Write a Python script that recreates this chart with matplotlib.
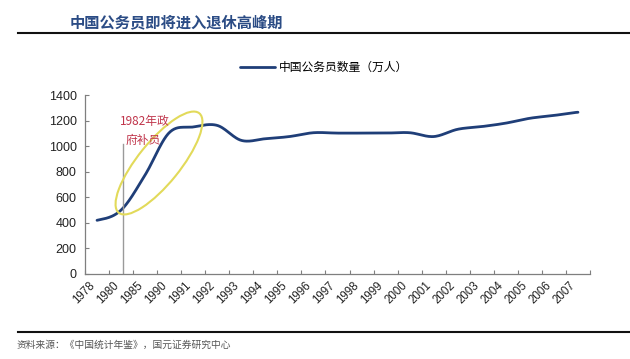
import matplotlib
matplotlib.use("Agg")
import matplotlib.pyplot as plt
from matplotlib.patches import Ellipse
from matplotlib.transforms import IdentityTransform
import numpy as np

plt.rcParams['font.family'] = ['Noto Sans CJK SC', 'DejaVu Sans']

years = ['1978', '1980', '1985', '1990', '1991', '1992', '1993', '1994', '1995',
         '1996', '1997', '1998', '1999', '2000', '2001', '2002', '2003', '2004',
         '2005', '2006', '2007']
values = [420, 500, 775, 1105, 1150, 1162, 1045, 1058, 1075, 1105, 1102, 1102,
          1102, 1105, 1075, 1132, 1153, 1180, 1218, 1240, 1265]
yticks = [0, 200, 400, 600, 800, 1000, 1200, 1400]
series_name = '中国公务员数量（万人）'
title = '中国公务员即将进入退休高峰期'
source = '资料来源：《中国统计年鉴》，国元证券研究中心'

W, H = 630, 359
fig = plt.figure(figsize=(W / 100, H / 100), dpi=100)
fig.patch.set_facecolor('white')

ax = fig.add_axes([85 / W, 1 - 274 / H, (590 - 85) / W, (274 - 95) / H])
x = np.arange(len(years))


def smooth(xp, yp, n=24):
    xp = np.asarray(xp, float); yp = np.asarray(yp, float)
    m = len(xp)
    ox, oy = [], []
    for i in range(m - 1):
        p0 = yp[i - 1] if i > 0 else yp[i]
        p1 = yp[i]; p2 = yp[i + 1]
        p3 = yp[i + 2] if i + 2 < m else yp[i + 1]
        t = np.linspace(0, 1, n, endpoint=False)
        yy = 0.5 * ((2 * p1) + (-p0 + p2) * t + (2 * p0 - 5 * p1 + 4 * p2 - p3) * t ** 2
                    + (-p0 + 3 * p1 - 3 * p2 + p3) * t ** 3)
        ox.extend(xp[i] + t * (xp[i + 1] - xp[i]))
        oy.extend(yy)
    ox.append(xp[-1]); oy.append(yp[-1])
    return np.array(ox), np.array(oy)


sx, sy = smooth(x, values)
line_color = '#1F3E78'
ax.plot(sx, sy, color=line_color, lw=2.0, solid_capstyle='round', label=series_name)

ax.set_xlim(-0.5, len(years) - 0.5)
ax.set_ylim(0, 1400)
ax.set_yticks(yticks)
ax.set_yticklabels([str(v) for v in yticks], fontsize=9, family='Liberation Sans', color='#222222')
ax.set_xticks(x)
ax.set_xticklabels(years, rotation=45, ha='right', va='top', fontsize=8.3,
                   family='Liberation Sans', color='#222222')
ax.set_xticks(np.arange(-0.5, len(years)), minor=True)
ax.tick_params(axis='x', which='major', length=0, pad=4)
ax.tick_params(axis='x', which='minor', direction='in', length=3, color='#7f7f7f', width=0.8)
ax.tick_params(axis='y', direction='in', length=3, color='#7f7f7f', width=0.8, pad=6)
for s in ['top', 'right']:
    ax.spines[s].set_visible(False)
for s in ['left', 'bottom']:
    ax.spines[s].set_color('#7f7f7f')
    ax.spines[s].set_linewidth(0.9)

# vertical marker line at 1980
ax.plot([x[1] + 0.07, x[1] + 0.07], [0, 1020], color='#9a9a9a', lw=1.0)

# annotation text
fig.text(145 / W, 1 - 121 / H, '1982年政', color='#C0354B', fontsize=8.5,
         ha='center', va='center')
fig.text(143 / W, 1 - 140 / H, '府补员', color='#C0354B', fontsize=8.5,
         ha='center', va='center')

# ellipse in pixel coords
ell = Ellipse((159, H - 163), width=128, height=42, angle=51, fill=False,
              edgecolor='#E2DA5A', lw=1.5, transform=IdentityTransform())
fig.patches.append(ell)

# legend
ax.legend(loc='upper left', bbox_to_anchor=((235 - 85) / (590 - 85), 1 + (95 - 56) / (274 - 95)),
          frameon=False, fontsize=8.5, handlelength=3.0, handletextpad=0.3,
          borderaxespad=0)

# title
fig.text(176 / W, 1 - 22 / H, title, color='#2B4C85', fontsize=11, fontweight='bold',
         ha='center', va='center')
fig.add_artist(plt.Line2D([18 / W, 1.0], [1 - 33 / H, 1 - 33 / H], color='#111111', lw=1.5))
fig.add_artist(plt.Line2D([18 / W, 1.0], [1 - 332 / H, 1 - 332 / H], color='#111111', lw=1.5))
fig.text(17 / W, 1 - 345 / H, source, color='#555555', fontsize=7, ha='left', va='center')

fig.savefig('out.png', dpi=100, facecolor='white')
